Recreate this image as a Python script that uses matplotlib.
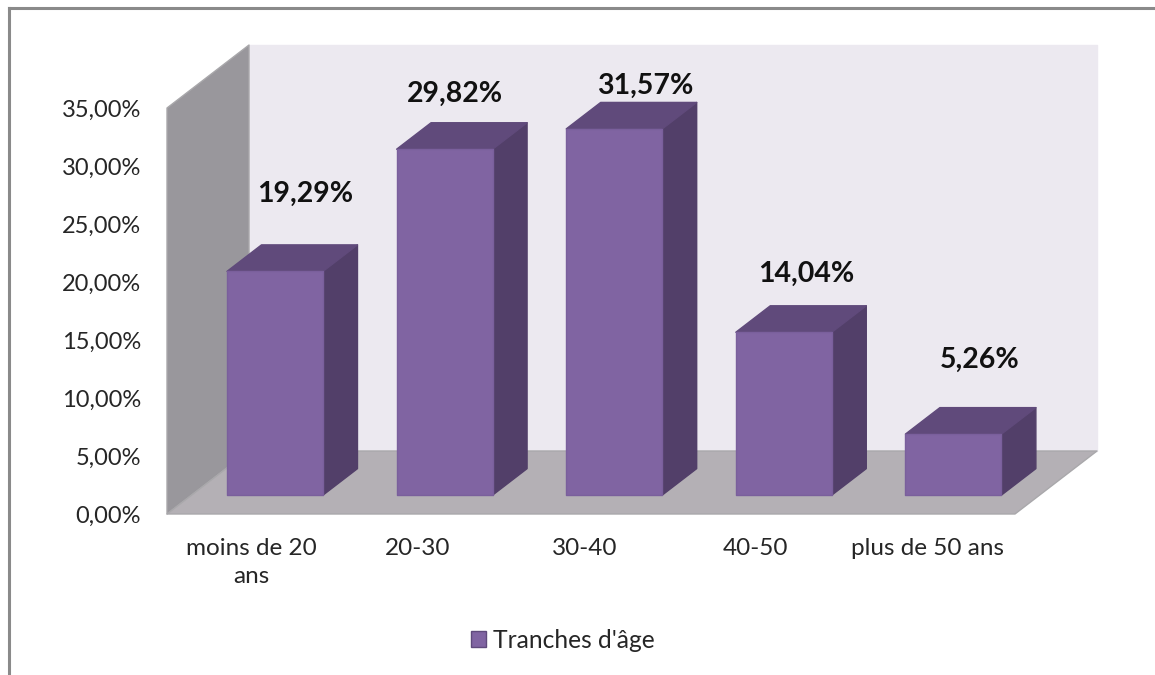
import matplotlib
matplotlib.use("Agg")
import matplotlib.pyplot as plt
from matplotlib.patches import Patch, Polygon
from matplotlib.lines import Line2D

categories = ["moins de 20\nans", "20-30", "30-40", "40-50", "plus de 50 ans"]
shares = [19.29, 29.82, 31.57, 14.04, 5.26]
share_labels = ["19,29%", "29,82%", "31,57%", "14,04%", "5,26%"]
y_ticks = [0, 5, 10, 15, 20, 25, 30, 35]
y_tick_labels = ["0,00%", "5,00%", "10,00%", "15,00%", "20,00%", "25,00%", "30,00%", "35,00%"]
series_name = "Tranches d'âge"

# Label nudges from the top of each bar's front face, in pixels
label_nudges = [(29, 77), (9, 55), (30, 43), (21, 58), (25, 74)]
tick_nudges = [0.0, -0.02, -0.035, -0.03, -0.015]

WIDTH, HEIGHT = 1155, 675
LEFT, RIGHT, TOP, BOTTOM = 167, 1015, 108, 514

FRONT = "#8064A2"
ROOF = "#604A7B"
SIDE = "#523F69"
BAR_EDGE = "#7A5F9C"
BACK_WALL = "#ECE9F0"
LEFT_WALL = "#99979C"
FLOOR = "#B4B0B5"
WALL_EDGE = "#A9A8AB"
TEXT = "#262626"

fig = plt.figure(figsize=(WIDTH / 100, HEIGHT / 100), dpi=100, facecolor="white")
plt.rcParams["font.family"] = ["Lato", "DejaVu Sans"]
ax = fig.add_axes([LEFT / WIDTH, 1 - BOTTOM / HEIGHT,
                   (RIGHT - LEFT) / WIDTH, (BOTTOM - TOP) / HEIGHT])
ax.set_xlim(0, len(categories))
ax.set_ylim(0, 35)
ax.patch.set_visible(False)
for spine in ax.spines.values():
    spine.set_visible(False)

# Oblique projection: depth 0 is the front plane, depth 1 the back wall
x_per_depth = 82 / ((RIGHT - LEFT) / len(categories))
y_per_depth = 63 / ((BOTTOM - TOP) / 35)


def project(x, y, depth):
    return (x + depth * x_per_depth, y + depth * y_per_depth)


def face(points, color, edge=None, z=1, lw=1.0):
    ax.add_patch(Polygon([project(*p) for p in points], closed=True, facecolor=color,
                         edgecolor=edge or color, linewidth=lw, zorder=z,
                         clip_on=False, joinstyle="round"))


n = len(categories)
top = y_ticks[-1]
face([(0, 0, 1), (n, 0, 1), (n, top, 1), (0, top, 1)], BACK_WALL, z=1)
face([(0, 0, 0), (0, top, 0), (0, top, 1), (0, 0, 1)], LEFT_WALL, WALL_EDGE, z=2)
face([(0, 0, 0), (n, 0, 0), (n, 0, 1), (0, 0, 1)], FLOOR, WALL_EDGE, z=2)

# Boxes sit on the floor with their front face part way into the depth
bar_width = 96 / ((RIGHT - LEFT) / n)
near, far = 0.30, 0.72
for i, (value, text, nudge) in enumerate(zip(shares, share_labels, label_nudges)):
    x0 = i + 0.492 - bar_width / 2
    x1 = x0 + bar_width
    face([(x1, 0, near), (x1, 0, far), (x1, value, far), (x1, value, near)], SIDE, z=3 + i)
    face([(x0, value, near), (x1, value, near), (x1, value, far), (x0, value, far)], ROOF, z=3 + i)
    face([(x0, 0, near), (x1, 0, near), (x1, value, near), (x0, value, near)], FRONT, BAR_EDGE, z=3 + i)
    ax.annotate(text, project(i + 0.5, value, near), xytext=nudge,
                textcoords="offset pixels", ha="center", va="center",
                fontsize=20.5, fontweight="bold", color="#111111",
                annotation_clip=False, zorder=20)

ax.set_yticks(y_ticks, y_tick_labels)
ax.set_xticks([i + 0.5 + d for i, d in enumerate(tick_nudges)], categories)
ax.tick_params(axis="y", length=0, pad=18.7, labelsize=17, labelcolor=TEXT)
ax.tick_params(axis="x", length=0, pad=17.5, labelsize=17.5, labelcolor=TEXT)
for tick_label in ax.get_xticklabels():
    tick_label.set_linespacing(1.37)

# Chart frame along the top and left of the canvas
frame = dict(color="#8A8A8A", linewidth=2.2, transform=fig.transFigure)
fig.add_artist(Line2D([9 / WIDTH, 1], [1 - 8 / HEIGHT] * 2, **frame))
fig.add_artist(Line2D([9 / WIDTH] * 2, [0, 1 - 8 / HEIGHT], **frame))

fig.legend(handles=[Patch(facecolor=FRONT, edgecolor="#5F4A7C", label=series_name)],
           loc="center", bbox_to_anchor=(563 / WIDTH, 1 - 640 / HEIGHT),
           frameon=False, fontsize=17.7, labelcolor=TEXT, handlelength=0.6,
           handleheight=0.6, handletextpad=0.3)

fig.savefig("out.png", dpi=100, facecolor="white")
